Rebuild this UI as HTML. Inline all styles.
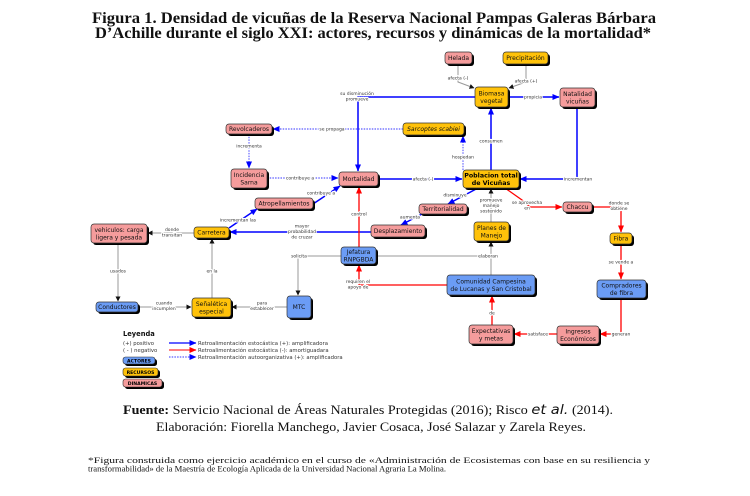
<!DOCTYPE html>
<html><head><meta charset="utf-8">
<style>
html,body{margin:0;padding:0;background:#fff;}
svg{display:block;}
.n{font-family:"DejaVu Sans",Verdana,sans-serif;font-size:6px;fill:#111;text-anchor:middle;}
.nb{font-family:"DejaVu Sans",Verdana,sans-serif;font-size:6.3px;font-weight:bold;fill:#000;text-anchor:middle;}
.l{font-family:"DejaVu Sans",Verdana,sans-serif;font-size:4.5px;fill:#333;text-anchor:middle;stroke:#fff;stroke-width:2.2;paint-order:stroke;stroke-linejoin:round;}
.lg{font-family:"DejaVu Sans",Verdana,sans-serif;font-size:5.3px;fill:#333;}
.bs{fill:none;stroke:#0000ff;stroke-width:1.5;}
.bd{fill:none;stroke:#3333ff;stroke-width:0.9;stroke-dasharray:1.5,1.2;}
.rs{fill:none;stroke:#ff0000;stroke-width:1.3;}
.gs{fill:none;stroke:#999;stroke-width:1;}
.ser{font-family:"Liberation Serif","DejaVu Serif",serif;}
</style></head><body>
<svg width="750" height="496" viewBox="0 0 750 496" xmlns="http://www.w3.org/2000/svg">
<defs>
<marker id="ab" markerUnits="userSpaceOnUse" markerWidth="7" markerHeight="6" refX="6.5" refY="3" orient="auto"><path d="M0,0 L7,3 L0,6 z" fill="#0000ff"/></marker>
<marker id="ar" markerUnits="userSpaceOnUse" markerWidth="7" markerHeight="6" refX="6.5" refY="3" orient="auto"><path d="M0,0 L7,3 L0,6 z" fill="#ff0000"/></marker>
<marker id="ak" markerUnits="userSpaceOnUse" markerWidth="5" markerHeight="5" refX="4.5" refY="2.5" orient="auto"><path d="M0,0 L5,2.5 L0,5 z" fill="#111"/></marker>
</defs>

<!-- Title -->
<text class="ser" x="92" y="23" font-size="15.5" font-weight="bold" textLength="564" lengthAdjust="spacingAndGlyphs" fill="#111">Figura 1. Densidad de vicuñas de la Reserva Nacional Pampas Galeras Bárbara</text>
<text class="ser" x="95" y="38" font-size="15.5" font-weight="bold" textLength="556" lengthAdjust="spacingAndGlyphs" fill="#111">D’Achille durante el siglo XXI: actores, recursos y dinámicas de la mortalidad*</text>

<!-- Edges: blue solid -->
<path class="bs" d="M508,97 H559" marker-end="url(#ab)"/>
<path class="bs" d="M475,97 H358 V171" marker-end="url(#ab)"/>
<path class="bs" d="M577,107 V179 H520" marker-end="url(#ab)"/>
<path class="bs" d="M491,170 V108" marker-end="url(#ab)"/>
<path class="bs" d="M378,179 H462" stroke-width="2" marker-end="url(#ab)"/>
<path class="bs" d="M313,204 L340,186" marker-end="url(#ab)"/>
<path class="bs" d="M229,228 L257,209" marker-end="url(#ab)"/>
<path class="bs" d="M371,232 H230" marker-end="url(#ab)"/>
<path class="bs" d="M478,188 L448,204" marker-end="url(#ab)"/>
<path class="bs" d="M422,214 L401,225" marker-end="url(#ab)"/>

<!-- blue dotted -->
<path class="bd" d="M463,170 V136" marker-end="url(#ab)"/>
<path class="bd" d="M403,129 H273" marker-end="url(#ab)"/>
<path class="bd" d="M249,134 V168" marker-end="url(#ab)"/>
<path class="bd" d="M267,178 H338" marker-end="url(#ab)"/>

<!-- red -->
<path class="rs" d="M359,247 V187" marker-end="url(#ar)"/>
<path class="rs" d="M447,285 H359 V265" marker-end="url(#ar)"/>
<path class="rs" d="M492,325 V296" marker-end="url(#ar)"/>
<path class="rs" d="M557,334 H514" marker-end="url(#ar)"/>
<path class="rs" d="M621,298 V334 H600" marker-end="url(#ar)"/>
<path class="rs" d="M621,244 V279" marker-end="url(#ar)"/>
<path class="rs" d="M592,207 H621 V232" marker-end="url(#ar)"/>
<path class="rs" d="M505,188 L522,200 L530,207 H562" marker-end="url(#ar)"/>

<!-- gray -->
<path class="gs" d="M458,64 V82 L474,88" marker-end="url(#ak)"/>
<path class="gs" d="M526,64 V82 L509,88" marker-end="url(#ak)"/>
<path class="gs" d="M194,233 H148" marker-end="url(#ak)"/>
<path class="gs" d="M118,243 V301" stroke="#bbb" stroke-width="1.8" marker-end="url(#ak)"/>
<path class="gs" d="M138,307 H191" marker-end="url(#ak)"/>
<path class="gs" d="M212,298 V239" marker-end="url(#ak)"/>
<path class="gs" d="M287,307 H232" marker-end="url(#ak)"/>
<path class="gs" d="M341,256 H298 V295" marker-end="url(#ak)"/>
<path class="gs" d="M376,256 H491"/>
<path class="gs" d="M491,275 V242" marker-end="url(#ak)"/>
<path class="gs" d="M491,222 V189" marker-end="url(#ak)"/>

<!-- Edge labels -->
<text class="l" x="533" y="98.5">propicia</text>
<text class="l" x="357" y="95">su disminución</text>
<text class="l" x="357" y="100.5">promueve</text>
<text class="l" x="578" y="180.5">incrementan</text>
<text class="l" x="491" y="142.5">consumen</text>
<text class="l" x="423" y="180.5">afecta (-)</text>
<text class="l" x="321" y="194.5">contribuye a</text>
<text class="l" x="238" y="221.5">incrementan las</text>
<text class="l" x="302" y="227.5">mayor</text>
<text class="l" x="302" y="233">probabilidad</text>
<text class="l" x="302" y="238.5">de cruzar</text>
<text class="l" x="455" y="196.5">disminuye</text>
<text class="l" x="410" y="218.5">aumenta</text>
<text class="l" x="463" y="158.5">hospedan</text>
<text class="l" x="332" y="130.5">se propaga</text>
<text class="l" x="249" y="147.5">incrementa</text>
<text class="l" x="300" y="179.5">contribuye a</text>
<text class="l" x="359" y="215.5">control</text>
<text class="l" x="358" y="283">requiren el</text>
<text class="l" x="358" y="288.5">apoyo de</text>
<text class="l" x="492" y="314.5">de</text>
<text class="l" x="538" y="335.5">satisface</text>
<text class="l" x="621" y="335.5">generan</text>
<text class="l" x="621" y="263.5">se vende a</text>
<text class="l" x="619" y="204.5">donde se</text>
<text class="l" x="619" y="210">obtiene</text>
<text class="l" x="527" y="204">se aprovecha</text>
<text class="l" x="527" y="209.5">en</text>
<text class="l" x="458" y="79.5">afecta (-)</text>
<text class="l" x="526" y="82.5">afecta (+)</text>
<text class="l" x="172" y="231">donde</text>
<text class="l" x="172" y="236.5">transitan</text>
<text class="l" x="118" y="272.5">usados</text>
<text class="l" x="164" y="304.5">cuando</text>
<text class="l" x="164" y="310">incumplen</text>
<text class="l" x="212" y="272.5">en la</text>
<text class="l" x="262" y="304.5">para</text>
<text class="l" x="262" y="310">establecer</text>
<text class="l" x="299" y="257.5">solicita</text>
<text class="l" x="488" y="257.5">elaboran</text>
<text class="l" x="491" y="201.5">promueve</text>
<text class="l" x="491" y="207">manejo</text>
<text class="l" x="491" y="212.5">sostenido</text>

<!-- Nodes -->
<g stroke="#333" stroke-width="0.7">
<!-- shadows -->
<g fill="#000" stroke="none">
<rect x="447" y="54" width="27" height="12" rx="3"/>
<rect x="505" y="54" width="45" height="12" rx="3"/>
<rect x="477" y="89" width="33" height="20" rx="3"/>
<rect x="562" y="90" width="35" height="19" rx="3"/>
<rect x="405" y="125" width="61" height="12" rx="3"/>
<rect x="228" y="126" width="46" height="10" rx="3"/>
<rect x="233" y="171" width="36" height="19" rx="3"/>
<rect x="341" y="174" width="39" height="14" rx="3"/>
<rect x="465" y="172" width="56" height="18" rx="3"/>
<rect x="257" y="200" width="58" height="11" rx="3"/>
<rect x="421" y="206" width="48" height="10" rx="3"/>
<rect x="565" y="204" width="29" height="10" rx="3"/>
<rect x="196" y="229" width="35" height="11" rx="3"/>
<rect x="93" y="226" width="56" height="19" rx="3"/>
<rect x="373" y="227" width="54" height="12" rx="3"/>
<rect x="476" y="224" width="35" height="19" rx="3"/>
<rect x="612" y="235" width="22" height="11" rx="3"/>
<rect x="343" y="249" width="35" height="17" rx="3"/>
<rect x="449" y="277" width="88" height="20" rx="3"/>
<rect x="599" y="282" width="49" height="18" rx="3"/>
<rect x="98" y="304" width="42" height="10" rx="3"/>
<rect x="194" y="300" width="39" height="19" rx="3"/>
<rect x="289" y="298" width="24" height="22" rx="3"/>
<rect x="471" y="327" width="44" height="19" rx="3"/>
<rect x="559" y="328" width="42" height="18" rx="3"/>
</g>
<rect x="445" y="52" width="27" height="12" rx="3" fill="#F59C9C"/>
<rect x="503" y="52" width="45" height="12" rx="3" fill="#FFC20A"/>
<rect x="475" y="87" width="33" height="20" rx="3" fill="#FFC20A"/>
<rect x="560" y="88" width="35" height="19" rx="3" fill="#F59C9C"/>
<rect x="403" y="123" width="61" height="12" rx="3" fill="#FFC20A"/>
<rect x="226" y="124" width="46" height="10" rx="3" fill="#F59C9C"/>
<rect x="231" y="169" width="36" height="19" rx="3" fill="#F59C9C"/>
<rect x="339" y="172" width="39" height="14" rx="3" fill="#F59C9C"/>
<rect x="463" y="170" width="56" height="18" rx="3" fill="#FFC20A"/>
<rect x="255" y="198" width="58" height="11" rx="3" fill="#F59C9C"/>
<rect x="419" y="204" width="48" height="10" rx="3" fill="#F59C9C"/>
<rect x="563" y="202" width="29" height="10" rx="3" fill="#F59C9C"/>
<rect x="194" y="227" width="35" height="11" rx="3" fill="#FFC20A"/>
<rect x="91" y="224" width="56" height="19" rx="3" fill="#F59C9C"/>
<rect x="371" y="225" width="54" height="12" rx="3" fill="#F59C9C"/>
<rect x="474" y="222" width="35" height="19" rx="3" fill="#FFC20A"/>
<rect x="610" y="233" width="22" height="11" rx="3" fill="#FFC20A"/>
<rect x="341" y="247" width="35" height="17" rx="3" fill="#6B9CF5"/>
<rect x="447" y="275" width="88" height="20" rx="3" fill="#6B9CF5"/>
<rect x="597" y="280" width="49" height="18" rx="3" fill="#6B9CF5"/>
<rect x="96" y="302" width="42" height="10" rx="3" fill="#6B9CF5"/>
<rect x="192" y="298" width="39" height="19" rx="3" fill="#FFC20A"/>
<rect x="287" y="296" width="24" height="22" rx="3" fill="#6B9CF5"/>
<rect x="469" y="325" width="44" height="19" rx="3" fill="#F59C9C"/>
<rect x="557" y="326" width="42" height="18" rx="3" fill="#F59C9C"/>
</g>

<!-- Node texts -->
<text class="n" x="458.5" y="60.2">Helada</text>
<text class="n" x="525.5" y="60.2">Precipitación</text>
<text class="n" x="491.5" y="95.5">Biomasa</text>
<text class="n" x="491.5" y="103">vegetal</text>
<text class="n" x="577.5" y="96">Natalidad</text>
<text class="n" x="577.5" y="103.5">vicuñas</text>
<text class="n" x="433.5" y="131.2" font-style="italic">Sarcoptes scabiei</text>
<text class="n" x="249" y="131.2">Revolcaderos</text>
<text class="n" x="249" y="177">Incidencia</text>
<text class="n" x="249" y="184.5">Sarna</text>
<text class="n" x="358.5" y="181.2">Mortalidad</text>
<text class="nb" x="491" y="177.5">Poblacion total</text>
<text class="nb" x="491" y="185">de Vicuñas</text>
<text class="n" x="284" y="205.7">Atropellamientos</text>
<text class="n" x="443" y="211.2">Territorialidad</text>
<text class="n" x="577.5" y="209.2">Chaccu</text>
<text class="n" x="211.5" y="234.7">Carretera</text>
<text class="n" x="119" y="232">vehiculos: carga</text>
<text class="n" x="119" y="239.5">ligera y pesada</text>
<text class="n" x="398" y="233.2">Desplazamiento</text>
<text class="n" x="491.5" y="230">Planes de</text>
<text class="n" x="491.5" y="237.5">Manejo</text>
<text class="n" x="621" y="240.7">Fibra</text>
<text class="n" x="358.5" y="254">Jefatura</text>
<text class="n" x="358.5" y="261.5">RNPGBDA</text>
<text class="n" x="491" y="283.5">Comunidad Campesina</text>
<text class="n" x="491" y="291">de Lucanas y San Cristobal</text>
<text class="n" x="621.5" y="287.5">Compradores</text>
<text class="n" x="621.5" y="295">de fibra</text>
<text class="n" x="117" y="309.2">Conductores</text>
<text class="n" x="211.5" y="306">Señalética</text>
<text class="n" x="211.5" y="313.5">especial</text>
<text class="n" x="299" y="309.2">MTC</text>
<text class="n" x="491" y="333">Expectativas</text>
<text class="n" x="491" y="340.5">y metas</text>
<text class="n" x="578" y="333.5">Ingresos</text>
<text class="n" x="578" y="341">Económicos</text>

<!-- Legend -->
<text x="123" y="336" font-family="DejaVu Sans,sans-serif" font-size="6.7" font-weight="bold" fill="#111">Leyenda</text>
<text class="lg" x="123" y="345">(+) positivo</text>
<text class="lg" x="123" y="352">( - ) negativo</text>
<path d="M169,343 H196" stroke="#0000ff" stroke-width="1.3" marker-end="url(#ab)"/>
<path d="M169,350 H196" stroke="#ff3333" stroke-width="1.3" marker-end="url(#ar)"/>
<path d="M169,357 H196" stroke="#3333ff" stroke-width="0.9" stroke-dasharray="1.5,1.2" marker-end="url(#ab)"/>
<text class="lg" x="198" y="345">Retroalimentación estocástica (+): amplificadora</text>
<text class="lg" x="198" y="352">Retroalimentación estocástica (-): amortiguadara</text>
<text class="lg" x="198" y="359">Retroalimentación autoorganizativa (+): amplificadora</text>
<rect x="125" y="359" width="32" height="7" rx="2.5" fill="#000"/>
<rect x="123" y="357" width="32" height="7" rx="2.5" fill="#6B9CF5" stroke="#333" stroke-width="0.6"/>
<text x="139" y="362.4" text-anchor="middle" font-family="DejaVu Sans,sans-serif" font-size="4.6" font-weight="bold" fill="#000">ACTORES</text>
<rect x="125" y="370" width="35" height="8" rx="2.5" fill="#000"/>
<rect x="123" y="368" width="35" height="8" rx="2.5" fill="#FFC20A" stroke="#333" stroke-width="0.6"/>
<text x="140.5" y="373.8" text-anchor="middle" font-family="DejaVu Sans,sans-serif" font-size="4.6" font-weight="bold" fill="#000">RECURSOS</text>
<rect x="125" y="381" width="39" height="8" rx="2.5" fill="#000"/>
<rect x="123" y="379" width="39" height="8" rx="2.5" fill="#F59C9C" stroke="#333" stroke-width="0.6"/>
<text x="142.5" y="384.8" text-anchor="middle" font-family="DejaVu Sans,sans-serif" font-size="4.6" font-weight="bold" fill="#000">DINAMICAS</text>

<!-- Footer -->
<text class="ser" x="123" y="414" font-size="12.5" fill="#111" textLength="490" lengthAdjust="spacingAndGlyphs"><tspan font-weight="bold">Fuente:</tspan> Servicio Nacional de Áreas Naturales Protegidas (2016); Risco <tspan font-style="italic" font-family="DejaVu Sans,sans-serif" font-size="13">et al.</tspan> (2014).</text>
<text class="ser" x="156" y="431" font-size="12.5" fill="#111" textLength="430" lengthAdjust="spacingAndGlyphs">Elaboración: Fiorella Manchego, Javier Cosaca, José Salazar y Zarela Reyes.</text>
<text class="ser" x="88" y="463" font-size="8.8" fill="#111" textLength="562" lengthAdjust="spacingAndGlyphs">*Figura construida como ejercicio académico en el curso de «Administración de Ecosistemas con base en su resiliencia y</text>
<text class="ser" x="88" y="471.5" font-size="8.8" fill="#111" textLength="358" lengthAdjust="spacingAndGlyphs">transformabilidad» de la Maestría de Ecología Aplicada de la Universidad Nacional Agraria La Molina.</text>
</svg>
</body></html>
